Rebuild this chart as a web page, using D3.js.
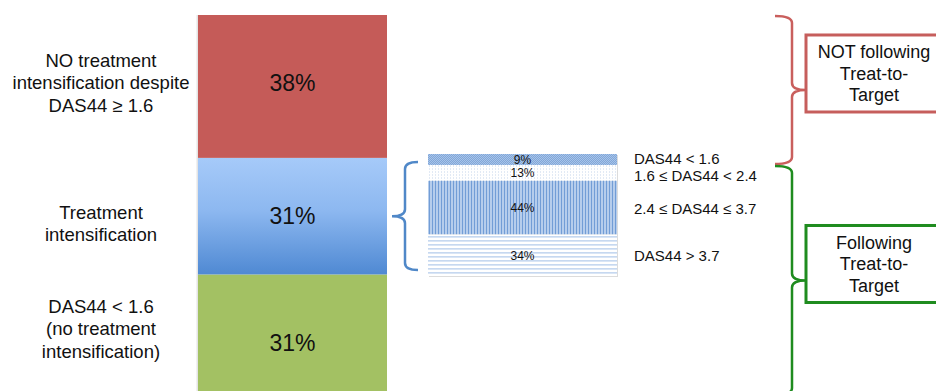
<!DOCTYPE html>
<html>
<head>
<meta charset="utf-8">
<script src="https://cdn.jsdelivr.net/npm/d3@7"></script>
<style>
  body { margin: 0; background: #fff; }
  svg { display: block; font-family: "Liberation Sans", Arial, Helvetica, sans-serif; }
</style>
</head>
<body>
<div id="chart"></div>
<script>
// main bar, stacked from the bottom up
const mainKeys = ['control', 'intensified', 'notIntensified'];
const mainValues = [31, 31, 38];
const mainLabels = [
  ['DAS44 < 1.6', '(no treatment', 'intensification)'],
  ['Treatment', 'intensification'],
  ['NO treatment', 'intensification despite', 'DAS44 ≥ 1.6']
];

// detail bar for the "Treatment intensification" group, stacked top-down
const subKeys = ['lt16', 'lt24', 'le37', 'gt37'];
const subValues = [9, 13, 44, 34];
const subLabels = ['DAS44 < 1.6', '1.6 ≤ DAS44 < 2.4', '2.4 ≤ DAS44 ≤ 3.7', 'DAS44 > 3.7'];

const groupLabels = [
  ['NOT following', 'Treat-to-', 'Target'],
  ['Following', 'Treat-to-', 'Target']
];

const width = 936;
const height = 391;

// small vertical nudges of the text, as placed on the original slide
const valueNudge = [10, 0, -4];
const labelNudge = [-4, 7, -4];
const subLabelNudge = [-1, 3, 1, 0];

const svg = d3.select('#chart').append('svg')
  .attr('width', width)
  .attr('height', height);

const defs = svg.append('defs');

const grad = defs.append('linearGradient')
  .attr('id', 'blueGrad')
  .attr('x1', 0).attr('y1', 0).attr('x2', 0).attr('y2', 1);
grad.append('stop').attr('offset', '0%').attr('stop-color', '#a6caf9');
grad.append('stop').attr('offset', '45%').attr('stop-color', '#8db8f0');
grad.append('stop').attr('offset', '100%').attr('stop-color', '#4f89d3');

function pattern(id, w, h, bg, marks) {
  const p = defs.append('pattern')
    .attr('id', id)
    .attr('patternUnits', 'userSpaceOnUse')
    .attr('width', w).attr('height', h);
  p.append('rect').attr('width', w).attr('height', h).attr('fill', bg);
  marks.forEach(m => p.append('rect')
    .attr('x', m[0]).attr('y', m[1]).attr('width', m[2]).attr('height', m[3]).attr('fill', m[4]));
}
pattern('p9', 2, 2, '#80a7d9', [[0, 0, 1, 1, '#a8c3e8'], [1, 1, 1, 1, '#a8c3e8']]);
pattern('p13', 3, 3, '#ffffff', [[0, 0, 1, 2, '#e2eaf5']]);
pattern('p44', 3, 3, '#b6cdec', [[0, 0, 1, 3, '#729dd6']]);
pattern('p34', 4, 4, '#ffffff', [[0, 0, 4, 1, '#c6d8f0'], [0, 1, 4, 1, '#d9e5f5']]);

const mainFill = ['#a3c163', 'url(#blueGrad)', '#c55b58'];
const subFill = ['url(#p9)', 'url(#p13)', 'url(#p44)', 'url(#p34)'];

const x = d3.scaleBand()
  .domain(['main', 'detail'])
  .range([198, 617])
  .paddingInner(41 / 230);

const y = d3.scaleLinear().domain([0, 100]).range([391, 15]);
const ySub = d3.scaleLinear().domain([0, 100]).range([154, 276]);

const mainStack = d3.stack().keys(mainKeys)([Object.fromEntries(mainKeys.map((k, i) => [k, mainValues[i]]))]);
const subStack = d3.stack().keys(subKeys)([Object.fromEntries(subKeys.map((k, i) => [k, subValues[i]]))]);

// main bar
svg.append('rect')
  .attr('x', x('main') - 1.5)
  .attr('y', y(100))
  .attr('width', 1.5)
  .attr('height', y(0) - y(100))
  .attr('fill', '#e4e4e4');

const mainG = svg.append('g');
mainG.selectAll('rect')
  .data(mainStack)
  .join('rect')
  .attr('x', x('main'))
  .attr('y', d => y(d[0][1]))
  .attr('height', d => y(d[0][0]) - y(d[0][1]))
  .attr('width', x.bandwidth())
  .attr('fill', (d, i) => mainFill[i]);

mainG.selectAll('.val')
  .data(mainStack)
  .join('text')
  .attr('class', 'val')
  .attr('x', x('main') + x.bandwidth() / 2)
  .attr('y', (d, i) => (y(d[0][0]) + y(d[0][1])) / 2 + valueNudge[i])
  .attr('dy', '0.36em')
  .attr('text-anchor', 'middle')
  .attr('font-size', 23)
  .attr('fill', '#111')
  .text((d, i) => mainValues[i] + '%');

// category labels on the left
const leftG = svg.append('g');
mainStack.forEach((d, i) => {
  const lines = mainLabels[i];
  const cy = (y(d[0][0]) + y(d[0][1])) / 2 + labelNudge[i];
  const lh = 22.5;
  const t = leftG.append('text')
    .attr('text-anchor', 'middle')
    .attr('font-size', 18.5)
    .attr('fill', '#111');
  lines.forEach((line, j) => {
    t.append('tspan')
      .attr('x', 101)
      .attr('y', cy + (j - (lines.length - 1) / 2) * lh)
      .attr('dy', '0.36em')
      .text(line);
  });
});

// detail bar
svg.append('rect')
  .attr('x', x('detail') + 1)
  .attr('y', ySub(0) + 1)
  .attr('width', x.bandwidth())
  .attr('height', ySub(100) - ySub(0))
  .attr('fill', '#dcdcdc');

const subG = svg.append('g');
subG.selectAll('rect')
  .data(subStack)
  .join('rect')
  .attr('x', x('detail'))
  .attr('y', d => ySub(d[0][0]))
  .attr('height', d => ySub(d[0][1]) - ySub(d[0][0]))
  .attr('width', x.bandwidth())
  .attr('fill', (d, i) => subFill[i]);

subG.selectAll('.val')
  .data(subStack)
  .join('text')
  .attr('class', 'val')
  .attr('x', x('detail') + x.bandwidth() / 2)
  .attr('y', d => (ySub(d[0][0]) + ySub(d[0][1])) / 2)
  .attr('dy', '0.36em')
  .attr('text-anchor', 'middle')
  .attr('font-size', 12)
  .attr('fill', '#111')
  .text((d, i) => subValues[i] + '%');

subG.selectAll('.lbl')
  .data(subStack)
  .join('text')
  .attr('class', 'lbl')
  .attr('x', x('detail') + x.bandwidth() + 17)
  .attr('y', (d, i) => (ySub(d[0][0]) + ySub(d[0][1])) / 2 + subLabelNudge[i])
  .attr('dy', '0.36em')
  .attr('font-size', 15)
  .attr('fill', '#111')
  .text((d, i) => subLabels[i]);

// curly brackets: xv vertical x, hook = offset of the ends, tip = offset of the point
function brace(xv, y0, y1, ym, hook, tip, r) {
  const xh = xv + hook;
  const xt = xv + tip;
  const p = d3.path();
  p.moveTo(xh, y0);
  p.quadraticCurveTo(xv, y0, xv, y0 + r);
  p.lineTo(xv, ym - r);
  p.quadraticCurveTo(xv, ym, xt, ym);
  p.quadraticCurveTo(xv, ym, xv, ym + r);
  p.lineTo(xv, y1 - r);
  p.quadraticCurveTo(xv, y1, xh, y1);
  return p.toString();
}

const blueMid = (y(mainStack[1][0][0]) + y(mainStack[1][0][1])) / 2;
svg.append('path')
  .attr('d', brace(x('detail') - 23, ySub(0) + 8, ySub(100) - 6, blueMid, 13, -13, 7))
  .attr('fill', 'none')
  .attr('stroke', '#5088c8')
  .attr('stroke-width', 2.5);

const bx = 792;
const redTop = y(100) + 1;
const redBottom = ySub(subValues[0]) - 1;
const greenTop = ySub(subValues[0]) + 1;
const greenBottom = 395;
const groups = [
  { top: redTop, bottom: redBottom, color: '#c95f5d', box: '#c65e5c', lines: groupLabels[0] },
  { top: greenTop, bottom: greenBottom, color: '#1f8c1f', box: '#1f8c1f', lines: groupLabels[1] }
];

groups.forEach(g => {
  const mid = (g.top + g.bottom) / 2;
  svg.append('path')
    .attr('d', brace(bx, g.top, g.bottom, mid, -17, 14, 7))
    .attr('fill', 'none')
    .attr('stroke', g.color)
    .attr('stroke-width', 2.5);

  const boxTop = mid - 55;
  svg.append('rect')
    .attr('x', 806)
    .attr('y', boxTop)
    .attr('width', 150)
    .attr('height', 77)
    .attr('fill', '#fff')
    .attr('stroke', g.box)
    .attr('stroke-width', 3);

  const t = svg.append('text')
    .attr('text-anchor', 'middle')
    .attr('font-size', 18)
    .attr('fill', '#111');
  g.lines.forEach((line, j) => {
    t.append('tspan')
      .attr('x', 874)
      .attr('y', boxTop + 38.5 + (j - 1) * 21.5)
      .attr('dy', '0.36em')
      .text(line);
  });
});
</script>
</body>
</html>
